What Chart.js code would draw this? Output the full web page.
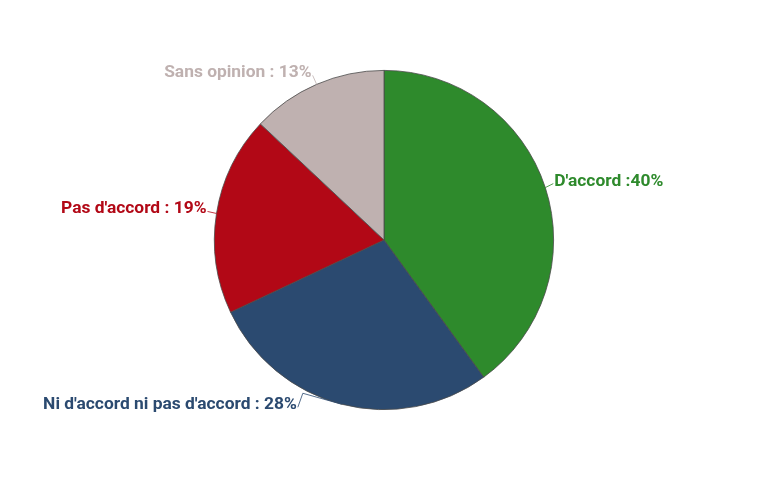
<!DOCTYPE html>
<html lang="fr">
<head>
  <meta charset="UTF-8" />
  <title>Sondage</title>
  <script src="https://cdn.jsdelivr.net/npm/chart.js"></script>
  <style>
    body { margin: 0; background: #ffffff; }
    canvas { display: block; }
  </style>
</head>
<body>
  <canvas id="pie" width="768" height="480"></canvas>
  <script>
    // donnees
    const categories = ["D'accord", "Ni d'accord ni pas d'accord", "Pas d'accord", "Sans opinion"];
    const values = [40, 28, 19, 13];
    const labelTexts = ["D'accord :40%", "Ni d'accord ni pas d'accord : 28%", "Pas d'accord : 19%", "Sans opinion : 13%"];
    const colors = ['#2e8a2c', '#2b4a70', '#b20816', '#bfb1b0'];

    // placement of each label relative to the slice's outer mid point
    // end = where the leader stops, elbow = optional bend, align = text side
    const placement = [
      { elbow: null, end: [8, -4], align: 'left' },
      { elbow: [-39, -11], end: [-44, 3], align: 'right' },
      { elbow: null, end: [-9, -2], align: 'right' },
      { elbow: null, end: [-4, -9], align: 'right' }
    ];

    const outsideLabels = {
      id: 'outsideLabels',
      afterDatasetsDraw(chart) {
        const ctx = chart.ctx;
        const meta = chart.getDatasetMeta(0);
        ctx.save();
        ctx.font = 'bold 17.4px Roboto, "Liberation Sans", sans-serif';
        ctx.textBaseline = 'alphabetic';
        meta.data.forEach((arc, i) => {
          const p = arc.getProps(['x', 'y', 'startAngle', 'endAngle', 'outerRadius'], true);
          const mid = (p.startAngle + p.endAngle) / 2;
          const ax = p.x + Math.cos(mid) * p.outerRadius;
          const ay = p.y + Math.sin(mid) * p.outerRadius;
          const pl = placement[i];
          const ex = ax + pl.end[0];
          const ey = ay + pl.end[1];
          ctx.strokeStyle = colors[i];
          ctx.globalAlpha = 0.8;
          ctx.lineWidth = 1;
          ctx.beginPath();
          ctx.moveTo(ax, ay);
          if (pl.elbow) ctx.lineTo(ax + pl.elbow[0], ay + pl.elbow[1]);
          ctx.lineTo(ex, ey);
          ctx.stroke();
          ctx.globalAlpha = 1;
          ctx.fillStyle = colors[i];
          ctx.textAlign = pl.align;
          const tx = pl.align === 'left' ? ex + 1 : ex - 1;
          ctx.fillText(labelTexts[i], tx, ey + 2);
        });
        ctx.restore();
      }
    };

    new Chart(document.getElementById('pie').getContext('2d'), {
      type: 'pie',
      data: {
        labels: categories,
        datasets: [{
          data: values,
          backgroundColor: colors,
          borderColor: '#4a4a4a',
          borderWidth: 0.8
        }]
      },
      options: {
        responsive: false,
        animation: false,
        layout: { padding: { top: 70, bottom: 70 } },
        plugins: {
          legend: { display: false },
          tooltip: { enabled: false }
        }
      },
      plugins: [outsideLabels]
    });
  </script>
</body>
</html>
